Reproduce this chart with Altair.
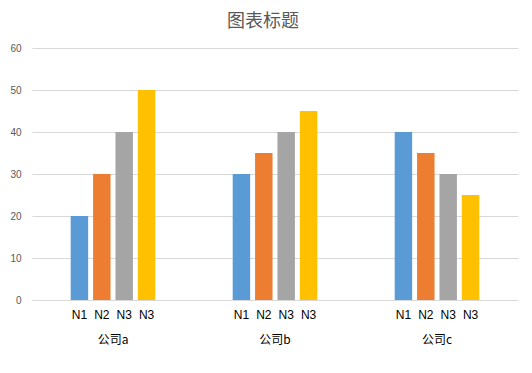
import altair as alt
import pandas as pd

groups = ["公司a", "公司b", "公司c"]
series_keys = ["s1", "s2", "s3", "s4"]
series_labels = ["N1", "N2", "N3", "N3"]
colors = ["#5B9BD5", "#ED7D31", "#A5A5A5", "#FFC000"]
values = {
    "公司a": [20, 30, 40, 50],
    "公司b": [30, 35, 40, 45],
    "公司c": [40, 35, 30, 25],
}
y_ticks = [0, 10, 20, 30, 40, 50, 60]

rows = []
for g in groups:
    for k, lab, v in zip(series_keys, series_labels, values[g]):
        rows.append({"group": g, "key": k, "label": lab, "value": v})
df = pd.DataFrame(rows)

W, H = 486, 252

x_enc = alt.X("group:N", sort=groups,
              scale=alt.Scale(paddingInner=0.45, paddingOuter=0.225),
              axis=alt.Axis(title=None, labelAngle=0, ticks=False, domain=False,
                            labelPadding=34, labelFont="Noto Sans CJK SC",
                            labelFontSize=12, labelColor="#000000"))
xo_enc = alt.XOffset("key:N", sort=series_keys,
                     scale=alt.Scale(paddingInner=0.22, paddingOuter=0.1))

bars = alt.Chart(df).mark_bar().encode(
    x=x_enc,
    xOffset=xo_enc,
    y=alt.Y("value:Q", scale=alt.Scale(domain=[0, 60]),
            axis=alt.Axis(title=None, values=y_ticks, ticks=False, domain=False,
                          labelColor="#595959", labelFontSize=10, labelPadding=11,
                          labelFont="Liberation Sans",
                          gridColor="#D9D9D9", gridWidth=1)),
    color=alt.Color("key:N", sort=series_keys,
                    scale=alt.Scale(domain=series_keys, range=colors), legend=None),
)

labels = alt.Chart(df).mark_text(font="Liberation Sans", fontSize=12, color="#000000",
                                 baseline="middle").encode(
    x=alt.X("group:N", sort=groups),
    xOffset=alt.XOffset("key:N", sort=series_keys),
    y=alt.value(H + 15),
    text="label:N",
)

chart = alt.layer(bars, labels).properties(
    width=W, height=H,
    background="white",
    title=alt.TitleParams("图表标题", font="Noto Sans CJK SC", fontSize=18,
                          fontWeight="normal", color="#595959", anchor="middle",
                          dx=-12, offset=12),
    padding={"left": 24, "top": 40, "right": 4, "bottom": 50},
    autosize="none",
).configure_view(stroke=None)

chart.save("out.html", embed_options={"renderer": "svg", "actions": False})
